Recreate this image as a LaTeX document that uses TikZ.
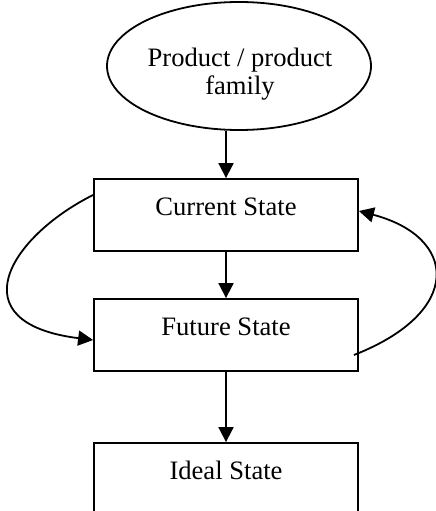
\documentclass[tikz,border=0pt]{standalone}
\usepackage{fontspec}
\setmainfont{Liberation Serif}
\usetikzlibrary{arrows.meta,shapes.geometric}
\begin{document}
\begin{tikzpicture}[x=1bp,y=-1bp, line width=1.8bp,
  txt/.style={font=\fontsize{26.7}{28}\selectfont},
  statebox/.style={draw, txt, minimum width=264bp, inner xsep=0bp, inner ysep=0bp,
     text height=36bp, text depth=36bp},
  oval/.style={draw, ellipse, minimum width=264bp, minimum height=128bp, inner sep=0bp},
  arr/.style={-{Triangle[length=15bp,width=15bp]}}]
\path[use as bounding box] (0,0) rectangle (436,511);
\clip (0,0) rectangle (436,511);
\node[oval] (prod) at (239,66) {};
\node[txt, align=center, inner sep=0bp] (prodtxt) at (240,74) {Product / product\\family};
\node[statebox] (cur) at (226,215) {Current State};
\node[statebox] (fut) at (226,335) {Future State};
\node[statebox] (ideal) at (226,479) {Ideal State};
\draw[arr] (prod.south -| cur.north) -- (cur.north);
\draw[arr] (cur.south) -- (fut.north);
\draw[arr] (fut.south) -- (ideal.north);
\draw[arr] ([yshift=20bp]cur.west) .. controls +(-84,42) and +(-136,-17) .. ([yshift=-5bp]fut.west);
\draw[arr] ([xshift=-5bp,yshift=-20bp]fut.east) .. controls +(110,-43) and +(99,26) .. ([yshift=4bp]cur.east);
\end{tikzpicture}
\end{document}
